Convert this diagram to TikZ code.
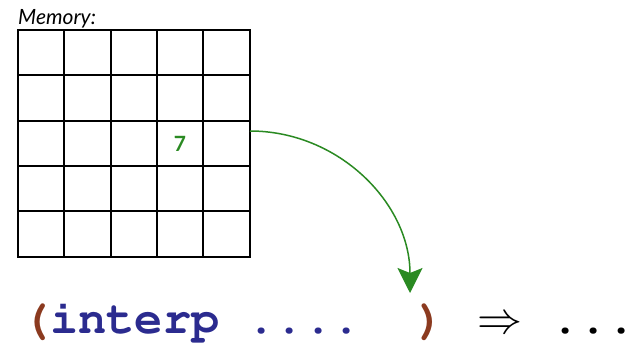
\documentclass[tikz,border=0pt]{standalone}
\usepackage{fix-cm}
\usepackage{fontspec}
\setmainfont{Lato}
\newcommand\mycodefont{\usefont{OT1}{pcr}{b}{n}}
\usetikzlibrary{arrows.meta}
\definecolor{codeblue}{HTML}{2B2B8F}
\definecolor{parenbrown}{HTML}{8B3A1F}
\definecolor{memgreen}{HTML}{2A8A22}
\begin{document}
\begin{tikzpicture}[x=1pt,y=-1pt,
  gridline/.style={draw=black,line width=2pt,line cap=rect},
  codetext/.style={anchor=base west,inner sep=0pt,font=\mycodefont\fontsize{47}{47}\selectfont},
  ptr/.style={draw=memgreen,line width=1.5pt,-{Stealth[length=25pt,width=25pt,inset=5pt]}}]
\useasboundingbox (0,0) rectangle (635,345);
\foreach \x in {18,64,111,157,203,250}{
  \draw[gridline] (\x,30) -- (\x,257);
}
\foreach \y in {30,75,121,166,211,257}{
  \draw[gridline] (18,\y) -- (250,\y);
}
\node[anchor=base west,inner sep=0pt,font=\itshape\fontsize{21}{21}\selectfont] (memlabel) at (18,25) {Memory:};
\node[inner sep=0pt,text=memgreen,font=\bfseries\fontsize{21}{21}\selectfont] (seven) at (180,143.5) {7};
\coordinate (src) at (250,131);
\coordinate (tgt) at (410,293);
\draw[ptr] (src) to[out=0,in=90] (tgt);
\node[codetext] (call) at (22,333) {\textcolor{parenbrown}{(}\textcolor{codeblue}{interp\ ....\ \ }\textcolor{parenbrown}{)}};
\node[anchor=base,inner sep=0pt,font=\fontsize{45}{45}\selectfont] (impl) at (500,333) {$\Rightarrow$};
\node[codetext] (result) at (551,333) {...};
\end{tikzpicture}
\end{document}
